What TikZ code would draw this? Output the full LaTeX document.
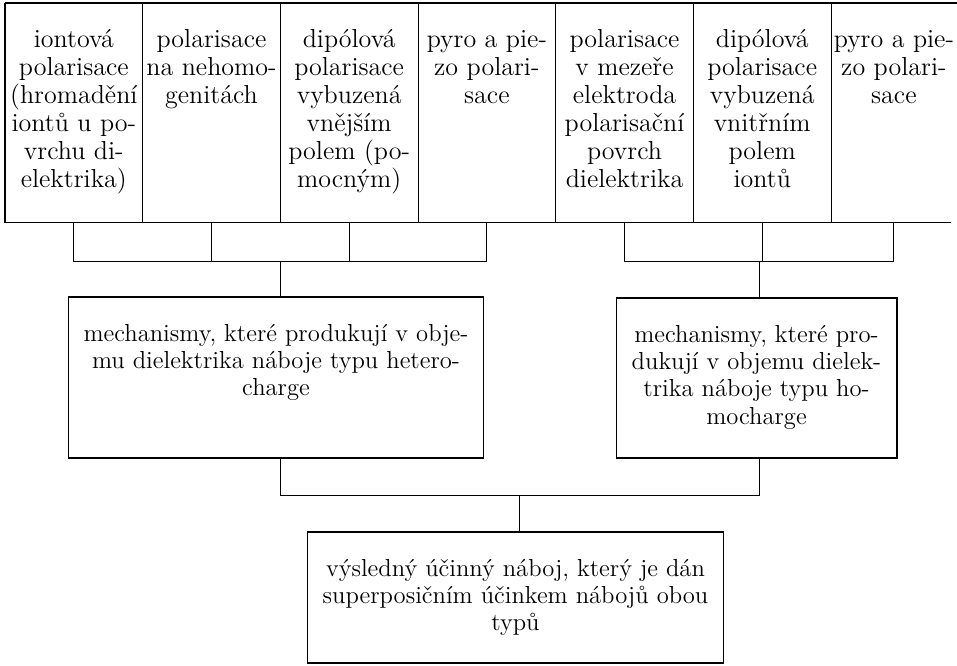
\documentclass[tikz,border=0pt]{standalone}
\usepackage{fontspec}
\usepackage{tikz}
\usetikzlibrary{calc}
\usetikzlibrary{positioning}

\tikzset{
    wire/.style={line width=0.6pt, black},
    % sloupec horni tabulky
    cell/.style={inner sep=0pt, font=\fontsize{14.8}{15.9}\selectfont},
    % ramecek s textem
    framebox/.style={draw, line width=0.6pt, inner sep=0pt, font=\fontsize{14}{15.6}\selectfont}
}
\newcommand{\cellbody}[3]{\parbox[c][#1][t]{#2}{\centering\rule{0pt}{0.88cm}#3}}

\begin{document}
\begin{tikzpicture}[x=0.02cm,y=-0.02cm]
    \useasboundingbox (0,0) rectangle (957,666);

    \node[cell, anchor=north west] (c1) at (5,3) {\cellbody{4.38cm}{2.74cm}{iontová\\polarisace\\(hromadění\\iontů u po-\\vrchu di-\\elektrika)}};
    \node[cell, right=0pt of c1] (c2) {\cellbody{4.38cm}{2.74cm}{polarisace\\na nehomo-\\genitách}};
    \node[cell, right=0pt of c2] (c3) {\cellbody{4.38cm}{2.74cm}{dipólová\\polarisace\\vybuzená\\vnějším\\polem (po-\\mocným)}};
    \node[cell, right=0pt of c3] (c4) {\cellbody{4.38cm}{2.74cm}{pyro a pie-\\zo polari-\\sace}};
    \node[cell, right=0pt of c4] (c5) {\cellbody{4.38cm}{2.74cm}{polarisace\\v mezeře\\elektroda\\polarisační\\povrch\\dielektrika}};
    \node[cell, right=0pt of c5] (c6) {\cellbody{4.38cm}{2.74cm}{dipólová\\polarisace\\vybuzená\\vnitřním\\polem\\iontů}};
    \node[cell, right=0pt of c6] (c7) {\cellbody{4.38cm}{2.5cm}{\mbox{pyro a pie-}\\\mbox{zo polari-}\\sace}};

    \draw[wire] (c1.north west) -- ($(c7.north east)+(5,0)$);
    \draw[wire] (c1.south west) -- ($(c7.south east)+(-6,0)$);
    \foreach \i in {1,...,7}
        \draw[wire] (c\i.north west) -- (c\i.south west);

    \node[framebox] (hetero) at (276,377.5) {\cellbody{3.22cm}{8.32cm}{mechanismy, které produkují v obje-\\mu dielektrika náboje typu hetero-\\charge}};
    \node[framebox] (homo) at (756.5,378) {\cellbody{3.2cm}{5.62cm}{mechanismy, které pro-\\dukují v objemu dielek-\\trika náboje typu ho-\\mocharge}};
    \node[framebox] (res) at (515.5,597.5) {\cellbody{2.62cm}{8.34cm}{výsledný účinný náboj, který je dán\\superposičním účinkem nábojů obou\\typů}};

    % levá skupina
    \draw[wire] (c1.south) -- ++(0,39) -| (c4.south);
    \draw[wire] (c2.south) -- ++(0,39);
    \draw[wire] (c3.south) -- ++(0,39);
    \coordinate (jl) at ($(c1.south)!0.5!(c4.south)+(0,39)$);
    \draw[wire] (jl) -- (jl |- hetero.north);

    % pravá skupina
    \draw[wire] (c5.south) -- ++(0,39) -| (c7.south);
    \draw[wire] (c6.south) -- ++(0,39);
    \coordinate (jr) at ($(c5.south)!0.5!(c7.south)+(0,39)$);
    \draw[wire] (jr) -- (jr |- homo.north);

    % výsledek
    \draw[wire] (jl |- hetero.south) -- ++(0,37) -| (jr |- homo.south);
    \coordinate (jb) at ($(jl |- hetero.south)!0.5!(jr |- homo.south)+(0,37)$);
    \draw[wire] (jb) -- (jb |- res.north);
\end{tikzpicture}
\end{document}
